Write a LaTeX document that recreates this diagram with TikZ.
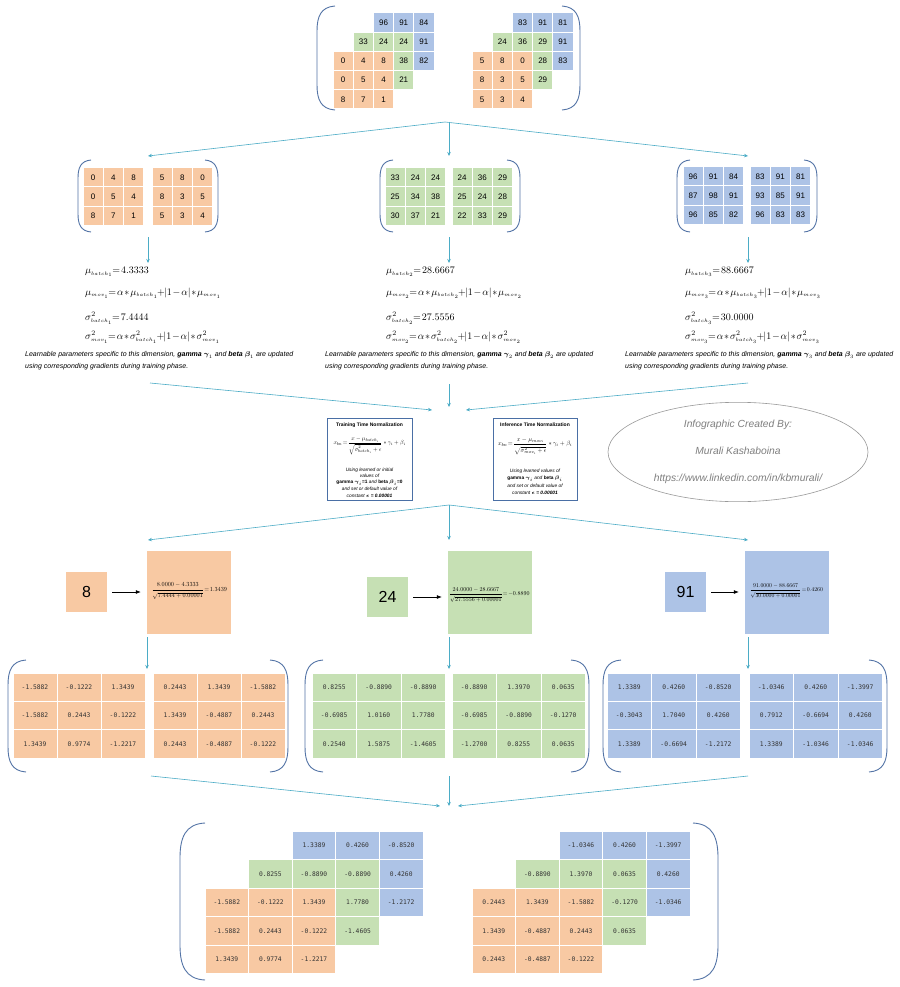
\documentclass[tikz,border=0pt]{standalone}
\usepackage{amsmath}
\usepackage{graphicx}
\usepackage{fontspec}
\setmainfont{Liberation Serif}
\setsansfont{Liberation Sans}
\setmonofont{DejaVu Sans Mono}
\usetikzlibrary{arrows.meta,shapes.geometric,calc}
\definecolor{corg}{HTML}{F8C9A3}
\definecolor{cgrn}{HTML}{C6E0B4}
\definecolor{cblu}{HTML}{ADC3E6}
\definecolor{carr}{HTML}{4BACC6}
\definecolor{cpar}{HTML}{5474A6}
\definecolor{cbox}{HTML}{4A6FA5}
\definecolor{cgry}{HTML}{7F7F7F}
% full 3x3 grid
\newcommand\cellgrid[8]{%
  \foreach \v [count=\i from 0] in {#8} {%
    \pgfmathtruncatemacro\rr{\i/3}%
    \pgfmathtruncatemacro\cc{\i-3*\rr}%
    \node[#7,fill=#6,minimum width=#4pt-1pt,minimum height=#5pt-1pt] (#1-\rr-\cc) at ({#2+(\cc+0.5)*#4},{#3+(\rr+0.5)*#5}) {\v};
  }}
% back grid of a stack: only the cells that are not covered (top row and right column)
\newcommand\backgrid[8]{%
  \foreach \v [count=\i from 0] in {#8} {%
    \pgfmathtruncatemacro\rr{\i/3}%
    \pgfmathtruncatemacro\cc{\i-3*\rr}%
    \pgfmathtruncatemacro\vis{(\rr==0)||(\cc==2)}%
    \ifnum\vis=1
    \node[#7,fill=#6,minimum width=#4pt-1pt,minimum height=#5pt-1pt] (#1-\rr-\cc) at ({#2+(\cc+0.5)*#4},{#3+(\rr+0.5)*#5}) {\v};
    \fi
  }}
\newcommand\lparen[4]{%
  \draw[parline] (#1+#4,#2) .. controls (#1+0.2*#4,#2+1) and (#1,#2+0.6*#4) .. (#1,#2+1.4*#4) -- (#1,#3-1.4*#4) .. controls (#1,#3-0.6*#4) and (#1+0.2*#4,#3-1) .. (#1+#4,#3);}
\newcommand\rparen[4]{%
  \draw[parline] (#1-#4,#2) .. controls (#1-0.2*#4,#2+1) and (#1,#2+0.6*#4) .. (#1,#2+1.4*#4) -- (#1,#3-1.4*#4) .. controls (#1,#3-0.6*#4) and (#1-0.2*#4,#3-1) .. (#1-#4,#3);}
\newcommand\ssb[1]{{\scriptscriptstyle #1}}
\newcommand\tightmath{\medmuskip=1.5mu\thickmuskip=2mu}
\newcommand\upstrut{\rule[-2.5pt]{0pt}{2.5pt}}
\newcommand\dnstrut{\rule{0pt}{12pt}}
\begin{document}
\begin{tikzpicture}[x=1pt,y=-1pt,
  cell/.style={inner sep=0pt,font=\sffamily\fontsize{8}{8}\selectfont},
  mcell/.style={inner sep=0pt,text=black!80,font=\ttfamily\fontsize{6.3}{8}\selectfont},
  parline/.style={draw=cpar,line width=0.9pt},
  tarrow/.style={draw=carr,line width=0.6pt,-{Stealth[length=4pt,width=3.5pt]}},
  karrow/.style={draw=black,line width=0.7pt,shorten <=5pt,shorten >=6pt,-{Latex[length=5pt,width=4pt]}},
  frm/.style={anchor=west,inner sep=0pt,font=\fontsize{10}{12}\selectfont\tightmath},
  desc/.style={anchor=north west,inner sep=0pt,align=left,font=\sffamily\itshape\fontsize{7}{12}\selectfont},
  nbox/.style={draw=cbox,line width=0.8pt,fill=white,minimum width=85pt,minimum height=82pt,inner sep=0pt},
  btitle/.style={inner sep=0pt,font=\sffamily\bfseries\fontsize{5}{6}\selectfont},
  btext/.style={inner sep=0pt,font=\sffamily\itshape\fontsize{4.8}{6}\selectfont},
  bignum/.style={minimum width=41pt,minimum height=40pt,inner sep=0pt,font=\sffamily\fontsize{16}{16}\selectfont},
  fbox/.style={minimum width=84pt,minimum height=83pt,inner sep=0pt},
  fml/.style={inner sep=0pt}]
\useasboundingbox (0,0) rectangle (899,987);
\fill[white] (0,0) rectangle (899,987);

% ---------- top stacks ----------
\backgrid{tlb}{373.4}{13}{20.2}{19.2}{cblu}{cell}{96,91,84,87,98,91,96,85,82}
\backgrid{tlg}{353.2}{32.2}{20.2}{19.2}{cgrn}{cell}{33,24,24,25,34,38,30,37,21}
\cellgrid{tlo}{333}{51.4}{20.2}{19.2}{corg}{cell}{0,4,8,0,5,4,8,7,1}
\backgrid{trb}{512.4}{13}{20.2}{19.2}{cblu}{cell}{83,91,81,93,85,91,96,83,83}
\backgrid{trg}{492.2}{32.2}{20.2}{19.2}{cgrn}{cell}{24,36,29,25,24,28,22,33,29}
\cellgrid{tro}{472}{51.4}{20.2}{19.2}{corg}{cell}{5,8,0,8,3,5,5,3,4}
\lparen{317}{6}{110}{18}
\rparen{580}{6}{110}{18}

% ---------- row 2 ----------
\cellgrid{ao}{83}{168}{20.2}{19}{corg}{cell}{0,4,8,0,5,4,8,7,1}
\cellgrid{bo}{152}{168}{20.2}{19}{corg}{cell}{5,8,0,8,3,5,5,3,4}
\cellgrid{ag}{385}{168}{20.2}{19}{cgrn}{cell}{33,24,24,25,34,38,30,37,21}
\cellgrid{bg}{452}{168}{20.2}{19}{cgrn}{cell}{24,36,29,25,24,28,22,33,29}
\cellgrid{ab}{683}{167}{20.2}{19}{cblu}{cell}{96,91,84,87,98,91,96,85,82}
\cellgrid{bb}{750}{167}{20.2}{19}{cblu}{cell}{83,91,81,93,85,91,96,83,83}
\lparen{78}{160}{232}{13}\rparen{218}{160}{232}{13}
\lparen{380}{160}{232}{13}\rparen{520}{160}{232}{13}
\lparen{677}{160}{232}{13}\rparen{817}{160}{232}{13}

% ---------- arrows top ----------
\coordinate (srcA) at (445,122);
\coordinate (srcA2) at (449,122);
\coordinate (tA1) at (148,156);
\coordinate (tA2) at (449,156);
\coordinate (tA3) at (748,156);
\draw[tarrow] (srcA) -- (tA1);
\draw[tarrow] (srcA2) -- (tA2);
\draw[tarrow] (srcA) -- (tA3);

\foreach \x [count=\k] in {148,449,748} {
  \coordinate (dB\k) at (\x,237);
  \coordinate (eB\k) at (\x,263);
  \draw[tarrow] (dB\k) -- (eB\k);
}

% ---------- statistics ----------
\foreach \k/\x/\m/\s in {1/85/4.3333/7.4444, 2/386/28.6667/27.5556, 3/685/88.6667/30.0000} {
  \node[frm] (mb\k) at (\x,272) {$\mu_{\ssb{batch_\k}}\!=\m$};
  \node[frm] (mm\k) at (\x,293) {$\mu_{\ssb{mov_\k}}\!=\alpha*\mu_{\ssb{batch_\k}}\!+\!\left|1-\alpha\right|*\mu_{\ssb{mov_\k}}$};
  \node[frm] (sb\k) at (\x,318) {$\sigma^2_{\ssb{batch_\k}}\!=\s$};
  \node[frm] (sm\k) at (\x,337) {$\sigma^2_{\ssb{mov_\k}}\!=\alpha*\sigma^2_{\ssb{batch_\k}}\!+\!\left|1-\alpha\right|*\sigma^2_{\ssb{mov_\k}}$};
}
\node[desc] (d1) at (25,351) {Learnable parameters specific to this dimension, \textbf{gamma $\boldsymbol{\gamma}_1$} and \textbf{beta $\boldsymbol{\beta}_1$} are updated\\using corresponding gradients during training phase.};
\node[desc] (d2) at (325,351) {Learnable parameters specific to this dimension, \textbf{gamma $\boldsymbol{\gamma}_2$} and \textbf{beta $\boldsymbol{\beta}_2$} are updated\\using corresponding gradients during training phase.};
\node[desc] (d3) at (625,351) {Learnable parameters specific to this dimension, \textbf{gamma $\boldsymbol{\gamma}_3$} and \textbf{beta $\boldsymbol{\beta}_3$} are updated\\using corresponding gradients during training phase.};

% ---------- converge arrows ----------
\coordinate (cC1) at (150,383);
\coordinate (cC2) at (449,384);
\coordinate (cC3) at (748,383);
\coordinate (eC1) at (432,410);
\coordinate (eC2) at (449,407);
\coordinate (eC3) at (466,410);
\draw[tarrow] (cC1) -- (eC1);
\draw[tarrow] (cC2) -- (eC2);
\draw[tarrow] (cC3) -- (eC3);

% ---------- normalization boxes ----------
\node[nbox] (train) at (369.5,459) {};
\node[btitle] (trT) at (369.5,425) {Training Time Normalization};
\node[fml] (trF) at (369.5,446) {\resizebox{72pt}{!}{$x_{bn}\!=\!\dfrac{\upstrut x-\mu_{batch_i}}{\dnstrut\sqrt{\sigma^2_{batch_i}+\epsilon}}*\gamma_i+\beta_i$}};
\node[btext] (tr1) at (369.5,470) {Using learned or initial};
\node[btext] (tr2) at (369.5,476) {values of};
\node[btext] (tr3) at (369.5,482.5) {\upshape\bfseries gamma $\boldsymbol{\gamma}_i$=1 \mdseries\itshape and \upshape\bfseries beta $\boldsymbol{\beta}_i$=0};
\node[btext] (tr4) at (369.5,489) {and set or default value of};
\node[btext] (tr5) at (369.5,495.5) {constant \bfseries $\boldsymbol{\epsilon}$ = 0.00001};

\node[nbox,minimum width=84pt] (infer) at (535,459) {};
\node[btitle] (inT) at (535,425) {Inference Time Normalization};
\node[fml] (inF) at (535,446) {\resizebox{74pt}{!}{$x_{bn}\!=\!\dfrac{\upstrut x-\mu_{mov_i}}{\dnstrut\sqrt{\sigma^2_{mov_i}+\epsilon}}*\gamma_i+\beta_i$}};
\node[btext] (in1) at (535,471) {Using learned values of};
\node[btext] (in2) at (535,478.5) {\upshape\bfseries gamma $\boldsymbol{\gamma}_i$ \mdseries\itshape and \upshape\bfseries beta $\boldsymbol{\beta}_i$};
\node[btext] (in3) at (535,486) {and set or default value of};
\node[btext] (in4) at (535,493) {constant \bfseries $\boldsymbol{\epsilon}$ = 0.00001};

\node[ellipse,draw=black!40,line width=0.6pt,minimum width=260pt,minimum height=92pt,align=center,text=cgry,font=\sffamily\itshape\fontsize{10.3}{27}\selectfont] (credit) at (738,452)
  {Infographic Created By:\\Murali Kashaboina\\https://www.linkedin.com/in/kbmurali/};

% ---------- diverge arrows ----------
\coordinate (srcD) at (449,505);
\coordinate (tD1) at (148,540);
\coordinate (tD2) at (449,540);
\coordinate (tD3) at (748,540);
\draw[tarrow] (srcD) -- (tD1);
\draw[tarrow] (srcD) -- (tD2);
\draw[tarrow] (srcD) -- (tD3);

% ---------- row 4 ----------
\node[bignum,fill=corg] (n1) at (86.5,592) {8};
\node[fbox,fill=corg] (f1) at (189,592.5) {};
\node[fml] (fx1) at (189.5,591) {\resizebox{75pt}{!}{$\dfrac{\upstrut 8.0000-4.3333}{\dnstrut\sqrt{7.4444+0.00001}}\!=\!1.3439$}};
\draw[karrow] (n1) -- (n1 -| f1.west);

\node[bignum,fill=cgrn] (n2) at (387.5,597) {24};
\node[fbox,fill=cgrn] (f2) at (490,592.5) {};
\node[fml] (fx2) at (489.5,595) {\resizebox{80pt}{!}{$\dfrac{\upstrut 24.0000-28.6667}{\dnstrut\sqrt{27.5556+0.00001}}\!=\!-0.8890$}};
\draw[karrow] (n2) -- (n2 -| f2.west);

\node[bignum,fill=cblu] (n3) at (685.5,592) {91};
\node[fbox,fill=cblu] (f3) at (787,592.5) {};
\node[fml] (fx3) at (786.5,591) {\resizebox{73pt}{!}{$\dfrac{\upstrut 91.0000-88.6667}{\dnstrut\sqrt{30.0000+0.00001}}\!=\!0.4260$}};
\draw[karrow] (n3) -- (n3 -| f3.west);

\foreach \x [count=\k] in {147,449,748} {
  \coordinate (dE\k) at (\x,637);
  \coordinate (eE\k) at (\x,669);
  \draw[tarrow] (dE\k) -- (eE\k);
}

% ---------- row 5 ----------
\cellgrid{po}{13}{673}{44}{28.4}{corg}{mcell}{-1.5882,-0.1222,1.3439,-1.5882,0.2443,-0.1222,1.3439,0.9774,-1.2217}
\cellgrid{qo}{153}{673}{44}{28.4}{corg}{mcell}{0.2443,1.3439,-1.5882,1.3439,-0.4887,0.2443,0.2443,-0.4887,-0.1222}
\cellgrid{pg}{312}{673}{44.5}{28.4}{cgrn}{mcell}{0.8255,-0.8890,-0.8890,-0.6985,1.0160,1.7780,0.2540,1.5875,-1.4605}
\cellgrid{qg}{452}{673}{44.5}{28.4}{cgrn}{mcell}{-0.8890,1.3970,0.0635,-0.6985,-0.8890,-0.1270,-1.2700,0.8255,0.0635}
\cellgrid{pb}{607}{673}{44.5}{28.4}{cblu}{mcell}{1.3389,0.4260,-0.8520,-0.3043,1.7040,0.4260,1.3389,-0.6694,-1.2172}
\cellgrid{qb}{749}{673}{44.5}{28.4}{cblu}{mcell}{-1.0346,0.4260,-1.3997,0.7912,-0.6694,0.4260,1.3389,-1.0346,-1.0346}
\lparen{8}{660}{772}{18}\rparen{288}{660}{772}{18}
\lparen{305}{660}{772}{18}\rparen{589}{660}{772}{18}
\lparen{603}{660}{772}{18}\rparen{887}{660}{772}{18}

\coordinate (cF1) at (151,776);
\coordinate (cF2) at (449,776);
\coordinate (cF3) at (748,776);
\coordinate (eF1) at (440,806);
\coordinate (eF2) at (449,806);
\coordinate (eF3) at (458,806);
\draw[tarrow] (cF1) -- (eF1);
\draw[tarrow] (cF2) -- (eF2);
\draw[tarrow] (cF3) -- (eF3);

% ---------- bottom stacks ----------
\backgrid{xlb}{292.2}{831}{43.6}{28.5}{cblu}{mcell}{1.3389,0.4260,-0.8520,-0.3043,1.7040,0.4260,1.3389,-0.6694,-1.2172}
\backgrid{xlg}{248.6}{859.5}{43.6}{28.5}{cgrn}{mcell}{0.8255,-0.8890,-0.8890,-0.6985,1.0160,1.7780,0.2540,1.5875,-1.4605}
\cellgrid{xlo}{205}{888}{43.6}{28.5}{corg}{mcell}{-1.5882,-0.1222,1.3439,-1.5882,0.2443,-0.1222,1.3439,0.9774,-1.2217}
\backgrid{xrb}{559.2}{831}{43.6}{28.5}{cblu}{mcell}{-1.0346,0.4260,-1.3997,0.7912,-0.6694,0.4260,1.3389,-1.0346,-1.0346}
\backgrid{xrg}{515.6}{859.5}{43.6}{28.5}{cgrn}{mcell}{-0.8890,1.3970,0.0635,-0.6985,-0.8890,-0.1270,-1.2700,0.8255,0.0635}
\cellgrid{xro}{472}{888}{43.6}{28.5}{corg}{mcell}{0.2443,1.3439,-1.5882,1.3439,-0.4887,0.2443,0.2443,-0.4887,-0.1222}
\lparen{180}{823}{980}{25}
\rparen{718}{823}{980}{25}
\end{tikzpicture}
\end{document}
